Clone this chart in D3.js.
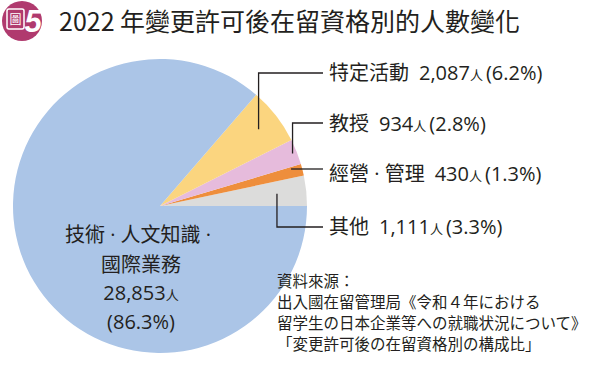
<!DOCTYPE html>
<html>
<head>
<meta charset="utf-8">
<script src="https://cdn.jsdelivr.net/npm/d3@7"></script>
<style>
  body { margin: 0; background: #fff; }
  text { font-family: "Noto Sans CJK TC", "Noto Sans", sans-serif; fill: #231f20; }
  .num { font-family: "Open Sans", sans-serif; }
</style>
</head>
<body>
<div id="chart"></div>
<script>
// 2022年變更許可後在留資格別的人數
const categories = ["其他", "經營·管理", "教授", "特定活動", "技術·人文知識·國際業務"];
const counts = [1111, 430, 934, 2087, 28853];
const percents = ["3.3%", "1.3%", "2.8%", "6.2%", "86.3%"];
const colors = ["#dcdcdb", "#ee8e3c", "#e6bbdc", "#fbd57f", "#abc5e7"];
const sourceLines = [
    "資料來源：",
    "出入國在留管理局《令和４年における",
    "留学生の日本企業等への就職状況について》",
    "「変更許可後の在留資格別の構成比」"
];

const width = 600;
const height = 365;
const cx = 160, cy = 206, radius = 147;

const svg = d3.select("#chart")
    .append("svg")
    .attr("width", width)
    .attr("height", height);

// write a CJK string whose "·" is drawn narrow
function addName(t, s) {
    s.split("·").forEach((part, k) => {
        if (k > 0) t.append("tspan").attr("class", "num").text(" · ");
        t.append("tspan").text(part);
    });
}

// title badge
const badge = svg.append("g").attr("transform", "translate(22,21)");
badge.append("circle").attr("r", 20).attr("fill", "#b03a6e");
badge.append("rect")
    .attr("x", -15).attr("y", -12).attr("width", 17).attr("height", 20).attr("rx", 2)
    .attr("fill", "none").attr("stroke", "#fff").attr("stroke-width", 1.5);
badge.append("text")
    .attr("x", -6.5).attr("y", 3).attr("text-anchor", "middle")
    .style("font-size", "12px").style("fill", "#fff")
    .text("圖");
badge.append("text")
    .attr("x", 11).attr("y", 11).attr("text-anchor", "middle")
    .style("font-size", "31px").style("font-weight", "bold").style("font-style", "italic")
    .style("font-family", "'Liberation Sans', sans-serif").style("fill", "#fff")
    .text("5");

svg.append("text")
    .attr("x", 59).attr("y", 31)
    .style("font-size", "25px")
    .text("2022 年變更許可後在留資格別的人數變化");

// pie: start at 3 o'clock and go counterclockwise
const pie = d3.pie()
    .sort(null)
    .value(d => d)
    .startAngle(Math.PI / 2)
    .endAngle(Math.PI / 2 - 2 * Math.PI);
const arcs = pie(counts);

const arc = d3.arc().innerRadius(0).outerRadius(radius);

const g = svg.append("g").attr("transform", `translate(${cx},${cy})`);
g.selectAll("path")
    .data(arcs)
    .enter()
    .append("path")
    .attr("d", arc)
    .attr("fill", (d, i) => colors[i]);

// leader lines
const labelX = 323;
const labelY = [227, 169, 123, 73];
const anchorR = [0.8, 0.92, 0.97, 0.85];
const lines = svg.append("g").attr("fill", "none").attr("stroke", "#231f20").attr("stroke-width", 1.3);
arcs.slice(0, 4).forEach((d, i) => {
    const a = (d.startAngle + d.endAngle) / 2;
    const px = cx + Math.sin(a) * radius * anchorR[i];
    const py = cy - Math.cos(a) * radius * anchorR[i];
    if (i === 1) {
        lines.append("path").attr("d", `M${px},${labelY[i]}H${labelX}`);
    } else {
        lines.append("path").attr("d", `M${px},${py}V${labelY[i]}H${labelX}`);
    }
});

// right labels
const fmt = d3.format(",");
categories.slice(0, 4).forEach((c, i) => {
    const t = svg.append("text")
        .attr("x", labelX + 6).attr("y", [234, 181, 131, 80][i])
        .style("font-size", "20px");
    addName(t, c);
    t.append("tspan").attr("class", "num").attr("dx", 10).style("font-size", "20px").text(fmt(counts[i]));
    t.append("tspan").style("font-size", "13px").text("人");
    t.append("tspan").attr("class", "num").attr("dx", 3).style("font-size", "20px").text("(" + percents[i] + ")");
});

// big slice label
const bigName = categories[4].split("·");
const line1 = svg.append("text")
    .attr("x", 138).attr("y", 242)
    .attr("text-anchor", "middle")
    .style("font-size", "20px");
addName(line1, bigName.slice(0, 2).join("·") + "·");
svg.append("text")
    .attr("x", 141).attr("y", 272)
    .attr("text-anchor", "middle")
    .style("font-size", "20px")
    .text(bigName[2]);
const t4 = svg.append("text")
    .attr("x", 141).attr("y", 300).attr("text-anchor", "middle");
t4.append("tspan").attr("class", "num").style("font-size", "20px").text(fmt(counts[4]));
t4.append("tspan").style("font-size", "13px").text("人");
svg.append("text")
    .attr("x", 141).attr("y", 329).attr("text-anchor", "middle")
    .attr("class", "num").style("font-size", "20px")
    .text("(" + percents[4] + ")");

// source note
sourceLines.forEach((s, i) => {
    svg.append("text")
        .attr("x", 277).attr("y", 287 + i * 21)
        .style("font-size", "15.5px")
        .text(s);
});
</script>
</body>
</html>
